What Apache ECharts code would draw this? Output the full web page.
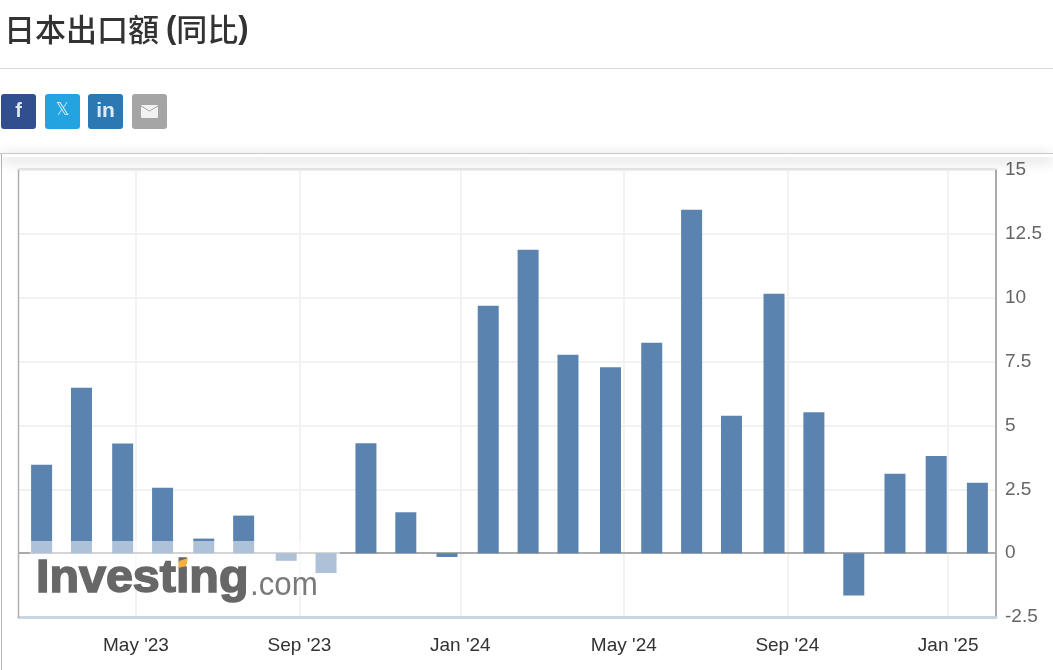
<!DOCTYPE html>
<html><head><meta charset="utf-8">
<style>html,body{margin:0;padding:0;background:#fff;overflow:hidden}#c{width:1053px;height:670px}</style>
<script src="https://cdn.jsdelivr.net/npm/echarts@6/dist/echarts.min.js"></script>
</head><body><div id="c"></div>
<script>
const releaseDates = ['2023-02-19','2023-03-21','2023-04-21','2023-05-21','2023-06-21','2023-07-21','2023-08-22','2023-09-21','2023-10-21','2023-11-20','2023-12-21','2024-01-21','2024-02-20','2024-03-21','2024-04-22','2024-05-23','2024-06-22','2024-07-22','2024-08-23','2024-09-22','2024-10-22','2024-11-22','2024-12-23','2025-01-23'];
const exportValues = [3.46,6.48,4.29,2.56,0.57,1.47,-0.3,-0.78,4.3,1.6,-0.15,9.69,11.88,7.77,7.28,8.24,13.44,5.38,10.16,5.52,-1.66,3.11,3.8,2.76];
const tickDates = ['2023-05-01','2023-09-01','2023-12-31','2024-05-02','2024-09-02','2025-01-01'];
const tickLabels = ["May '23","Sep '23","Jan '24","May '24","Sep '24","Jan '25"];
const ts = s => { const p = s.split('-').map(Number); return Date.UTC(p[0], p[1]-1, p[2]); };
const tickTimes = tickDates.map(ts);
const labelOf = v => { const i = tickTimes.indexOf(v); return i >= 0 ? tickLabels[i] : ''; };
const F = '"Liberation Sans", Arial, sans-serif';
const chart = echarts.init(document.getElementById('c'), null, {renderer:'canvas'});
const icon = (x, color, txt, font) => [
  {type:'rect', z:20, shape:{x:x,y:94,width:35,height:35,r:3}, style:{fill:color}},
  {type:'text', z:21, x:x+17.5, y:111, style:{text:txt, fill:'rgba(255,255,255,0.85)', font:font, textAlign:'center', textVerticalAlign:'middle'}}
];
chart.setOption({
  animation:false,
  backgroundColor:'#fff',
  title:{left:-1, top:9, text:'{a|日本出口額 }{b|(}{a|同比}{b|)}', textStyle:{rich:{
    a:{fontFamily:'"Noto Sans CJK TC",sans-serif', fontWeight:500, fontSize:31, color:'#333'},
    b:{fontFamily:F, fontWeight:'bold', fontSize:31, color:'#333'}}}},
  grid:{left:19, right:57, top:170, bottom:53},
  xAxis:{type:'value', min:ts('2023-02-02'), max:ts('2025-02-06'), scale:true,
    axisLine:{show:true, onZero:false, lineStyle:{color:'#c8d5e3', width:3}},
    axisTick:{show:false, customValues:tickTimes},
    axisLabel:{customValues:tickTimes, formatter:labelOf, color:'#333', fontFamily:F, fontSize:19, margin:19, hideOverlap:false},
    splitLine:{show:true, lineStyle:{color:'#f2f2f2', width:2}}},
  yAxis:{type:'value', position:'right', min:-2.5, max:15, interval:2.5,
    axisLine:{show:true, onZero:false, lineStyle:{color:'#aaa', width:2}},
    axisTick:{show:false},
    axisLabel:{color:'#666', fontFamily:F, fontSize:19, margin:9, formatter:v=>String(v)},
    splitLine:{show:true, lineStyle:{color:'#eeeeee', width:1.5}}},
  series:[
    {type:'bar', name:'日本出口額', data:releaseDates.map((d,i)=>[ts(d), exportValues[i]]), barWidth:21, itemStyle:{color:'#5b83b0'}, z:3,
     markLine:{silent:true, symbol:'none', label:{show:false}, lineStyle:{color:'#aaa', width:2, type:'solid'}, data:[{yAxis:0}], z:2}}
  ],
  graphic:[
    {type:'rect', z:1, shape:{x:1,y:153,width:1052,height:4}, style:{fill:'#fff', shadowBlur:14, shadowColor:'rgba(0,0,0,0.28)', shadowOffsetY:3}},
    {type:'line', z:2, shape:{x1:0,y1:68.5,x2:1053,y2:68.5}, style:{stroke:'#d9d9d9', lineWidth:1}},
    {type:'line', z:2, shape:{x1:1.5,y1:153,x2:1.5,y2:670}, style:{stroke:'#b5b5b5', lineWidth:1}},
    {type:'line', z:2, shape:{x1:0,y1:153.5,x2:1053,y2:153.5}, style:{stroke:'#c8c8c8', lineWidth:1}},
    {type:'line', z:2, shape:{x1:18.5,y1:169,x2:18.5,y2:618}, style:{stroke:'#b0b0b0', lineWidth:1.5}},
    {type:'line', z:2, shape:{x1:18,y1:169,x2:997,y2:169}, style:{stroke:'#e2e2e2', lineWidth:2}},
    ...icon(1,'#314f8f','f','bold 20px '+F),
    ...icon(45,'#23a4e0','𝕏','17px "DejaVu Sans"'),
    ...icon(88,'#2b78b2','in','bold 21px '+F),
    {type:'rect', z:20, shape:{x:132,y:94,width:35,height:35,r:3}, style:{fill:'#a5a5a5'}},
    {type:'rect', z:21, shape:{x:141,y:105,width:17,height:13,r:1}, style:{fill:'rgba(255,255,255,0.85)'}},
    {type:'polyline', z:22, shape:{points:[[141,106],[149.5,111],[158,106]]}, style:{stroke:'#a5a5a5', lineWidth:1, fill:null}},
    {type:'rect', z:30, shape:{x:30,y:541,width:310,height:50}, style:{fill:'rgba(255,255,255,0.5)'}},
    {type:'text', z:31, x:36, y:603, originX:0, scaleX:1.03, style:{text:'Investing', fill:'#676767', font:'bold 47px '+F, textVerticalAlign:'bottom', textAlign:'left', stroke:'#676767', lineWidth:1.6}},
    {type:'text', z:31, x:250, y:603, originX:0, scaleX:0.92, style:{text:'.com', fill:'#7a7a7a', font:'34px '+F, textVerticalAlign:'bottom', textAlign:'left'}},
    {type:'polygon', z:32, shape:{points:[[179,561],[188,558],[186,566],[178,568]]}, style:{fill:'#f5b041'}}
  ]
});
</script></body></html>
